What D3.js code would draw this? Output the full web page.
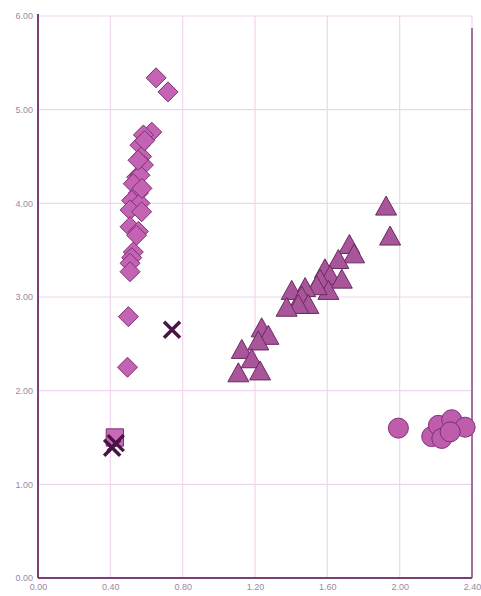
<!DOCTYPE html>
<html><head><meta charset="utf-8">
<script src="https://cdn.jsdelivr.net/npm/d3@7"></script>
<style>body{margin:0;background:#fff}svg{display:block}</style>
</head><body>
<script>
const xTicks = [0, 0.4, 0.8, 1.2, 1.6, 2.0, 2.4];
const yTicks = [0, 1, 2, 3, 4, 5, 6];

const diamondX = [0.653,0.719,0.629,0.583,0.564,0.573,0.583,0.546,0.564,0.527,0.555,0.518,0.564,0.509,0.573,0.509,0.555,0.59,0.553,0.575,0.545,0.527,0.518,0.509,0.509,0.500];
const diamondY = [5.34,5.19,4.76,4.73,4.62,4.50,4.41,4.28,4.30,4.21,4.11,4.03,4.00,3.93,3.91,3.75,3.70,4.67,4.46,4.16,3.66,3.48,3.42,3.36,3.27,2.79];
const diamondX2 = [0.495];
const diamondY2 = [2.25];

const triX = [1.925,1.947,1.722,1.748,1.661,1.587,1.615,1.68,1.56,1.606,1.541,1.477,1.403,1.458,1.495,1.44,1.375,1.237,1.274,1.218,1.127,1.182,1.108,1.228];
const triY = [3.96,3.64,3.55,3.45,3.39,3.29,3.22,3.18,3.18,3.06,3.11,3.09,3.06,3.00,2.91,2.91,2.88,2.66,2.58,2.52,2.43,2.33,2.18,2.20];

const circX = [1.993,2.177,2.214,2.233,2.288,2.362,2.279];
const circY = [1.60,1.51,1.63,1.49,1.69,1.61,1.56];

const sqX = [0.425];
const sqY = [1.50];

const crossX = [0.741,0.41,0.43];
const crossY = [2.65,1.39,1.44];

const W = 481, H = 596;
const m = {left:38, right:9, top:16, bottom:18};
const svg = d3.select("body").append("svg").attr("width",W).attr("height",H);

const x = d3.scaleLinear().domain([0,2.4]).range([m.left, W-m.right]);
const y = d3.scaleLinear().domain([0,6]).range([H-m.bottom, m.top]);

// gridlines
svg.append("g").selectAll("line.v").data(xTicks.slice(1)).join("line")
  .attr("x1",d=>x(d)).attr("x2",d=>x(d)).attr("y1",y(0)).attr("y2",y(6))
  .attr("stroke","#f0d6ec").attr("stroke-width",1.2);
svg.append("g").selectAll("line.h").data(yTicks.slice(1)).join("line")
  .attr("x1",x(0)).attr("x2",x(2.4)).attr("y1",d=>y(d)).attr("y2",d=>y(d))
  .attr("stroke","#f0d6ec").attr("stroke-width",1.2);

// axes
const xAxis = d3.axisBottom(x).tickValues(xTicks).tickFormat(d3.format(".2f")).tickSize(0).tickPadding(6);
const yAxis = d3.axisLeft(y).tickValues(yTicks).tickFormat(d3.format(".2f")).tickSize(0).tickPadding(5);
const gx = svg.append("g").attr("transform",`translate(0,${y(0)})`).call(xAxis);
const gy = svg.append("g").attr("transform",`translate(${x(0)},0)`).call(yAxis);
[gx,gy].forEach(g=>{
  g.select(".domain").remove();
  g.selectAll("text").attr("fill","#9a88a4").style("font-family","Liberation Sans, Arial, sans-serif").style("font-size","9px");
});

// frame lines
svg.append("line").attr("x1",x(0)).attr("x2",x(0)).attr("y1",y(6)-2).attr("y2",y(0)).attr("stroke","#7a3f76").attr("stroke-width",2);
svg.append("line").attr("x1",x(0)).attr("x2",x(2.4)).attr("y1",y(0)).attr("y2",y(0)).attr("stroke","#7a3f76").attr("stroke-width",2);
svg.append("line").attr("x1",x(2.4)).attr("x2",x(2.4)).attr("y1",y(6)+12).attr("y2",y(0)).attr("stroke","#8a4a86").attr("stroke-width",1.5);

const fill = "#c463b4", stroke = "#7d2f72";
const pts = (xs,ys)=>xs.map((v,i)=>({x:v,y:ys[i]}));

// squares
svg.append("g").selectAll("path").data(pts(sqX,sqY)).join("path")
  .attr("d", d3.symbol(d3.symbolSquare, 300)())
  .attr("transform",d=>`translate(${x(d.x)},${y(d.y)})`)
  .attr("fill","#c86ab8").attr("stroke",stroke).attr("stroke-width",1);

// diamonds
const diamond = "M0,-10L10,0L0,10L-10,0Z";
svg.append("g").selectAll("path").data(pts(diamondX,diamondY).concat(pts(diamondX2,diamondY2))).join("path")
  .attr("d", diamond)
  .attr("transform",d=>`translate(${x(d.x)},${y(d.y)})`)
  .attr("fill",fill).attr("stroke",stroke).attr("stroke-width",1);

// triangles
const tri = "M0,-11L10.5,8L-10.5,8Z";
svg.append("g").selectAll("path").data(pts(triX,triY)).join("path")
  .attr("d", tri)
  .attr("transform",d=>`translate(${x(d.x)},${y(d.y)})`)
  .attr("fill","#a8559a").attr("stroke","#6a2a60").attr("stroke-width",1);

// circles
svg.append("g").selectAll("circle").data(pts(circX,circY)).join("circle")
  .attr("cx",d=>x(d.x)).attr("cy",d=>y(d.y)).attr("r",10)
  .attr("fill","#c05cac").attr("stroke",stroke).attr("stroke-width",1);

// crosses
svg.append("g").selectAll("path").data(pts(crossX,crossY)).join("path")
  .attr("d","M-8,-8L8,8M8,-8L-8,8")
  .attr("transform",d=>`translate(${x(d.x)},${y(d.y)})`)
  .attr("fill","none").attr("stroke","#4a1444").attr("stroke-width",3.5);
</script>
</body></html>
